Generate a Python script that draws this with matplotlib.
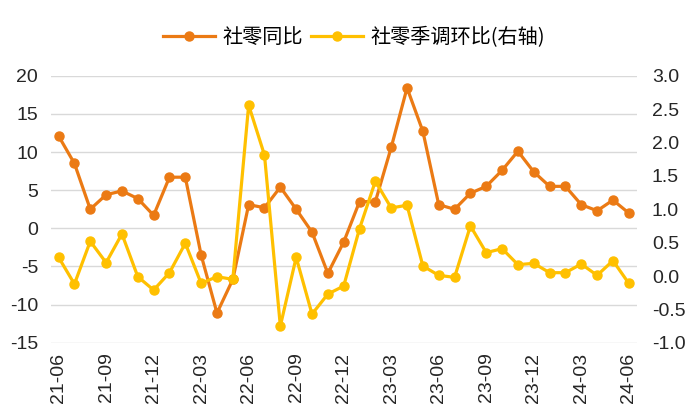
import matplotlib
matplotlib.use('Agg')
import matplotlib.pyplot as plt
from matplotlib.lines import Line2D
from matplotlib.ticker import FormatStrFormatter

plt.rcParams['font.family'] = ['Liberation Sans', 'Noto Sans CJK SC', 'DejaVu Sans']
plt.rcParams['axes.unicode_minus'] = False

# Months 21-06 .. 24-06
months = []
for y in range(21, 25):
    for m in range(1, 13):
        if (y == 21 and m < 6) or (y == 24 and m > 6):
            continue
        months.append(f'{y}-{m:02d}')

# 社零同比 (%), left axis
yoy = [12.1, 8.5, 2.5, 4.4, 4.9, 3.9, 1.7, 6.7, 6.7, -3.5, -11.1, -6.7,
       3.1, 2.7, 5.4, 2.5, -0.5, -5.9, -1.8, 3.5, 3.5, 10.6, 18.4, 12.7,
       3.1, 2.5, 4.6, 5.5, 7.6, 10.1, 7.4, 5.5, 5.5, 3.1, 2.3, 3.7, 2.0]

# 社零季调环比 (%), right axis
mom = [0.28, -0.12, 0.52, 0.20, 0.63, -0.01, -0.21, 0.05, 0.49, -0.11, -0.01, -0.05,
       2.56, 1.81, -0.75, 0.28, -0.57, -0.27, -0.15, 0.71, 1.42, 1.02, 1.06, 0.15,
       0.01, -0.02, 0.75, 0.35, 0.41, 0.17, 0.19, 0.05, 0.05, 0.18, 0.01, 0.23, -0.11]

orange = '#EB7A14'
yellow = '#FFC000'

fig = plt.figure(figsize=(6.97, 4.13), dpi=100)
ax1 = fig.add_axes([0.0727, 0.170, 0.8408, 0.6467])
x = list(range(len(months)))

ax1.plot(x, yoy, color=orange, linewidth=2.3, marker='o', markersize=6.5)
ax1.set_ylim(-15, 20)
ax1.set_yticks(range(-15, 21, 5))
ax1.set_xlim(-0.5, len(months) - 0.5)
ax1.grid(axis='y', color='#D9D9D9', linewidth=1)
ax1.set_axisbelow(True)

ax2 = ax1.twinx()
ax2.plot(x, mom, color=yellow, linewidth=2.3, marker='o', markersize=6.5)
ax2.set_ylim(-1.0, 3.0)
ax2.set_yticks([-1.0, -0.5, 0.0, 0.5, 1.0, 1.5, 2.0, 2.5, 3.0])
ax2.yaxis.set_major_formatter(FormatStrFormatter('%.1f'))

ax1.set_xticks(x[::3])
ax1.set_xticklabels(months[::3], rotation=90)

for ax in (ax1, ax2):
    for s in ax.spines.values():
        s.set_visible(False)
    ax.tick_params(length=0, labelsize=14, colors='#262626')
ax1.tick_params(axis='x', labelsize=14, pad=7)
ax1.tick_params(axis='y', pad=9)
ax2.tick_params(axis='y', pad=11)

handles = [Line2D([], [], color=orange, linewidth=2.3, marker='o', markersize=6.5),
           Line2D([], [], color=yellow, linewidth=2.3, marker='o', markersize=6.5)]
fig.legend(handles, ['社零同比', '社零季调环比(右轴)'], loc='center',
           bbox_to_anchor=(0.508, 0.91), ncol=2, frameon=False,
           prop={'family': ['Noto Sans CJK SC', 'DejaVu Sans'], 'size': 14.5},
           handlelength=2.6, handletextpad=0.35, columnspacing=0.4)

fig.savefig('out.png', dpi=100)
